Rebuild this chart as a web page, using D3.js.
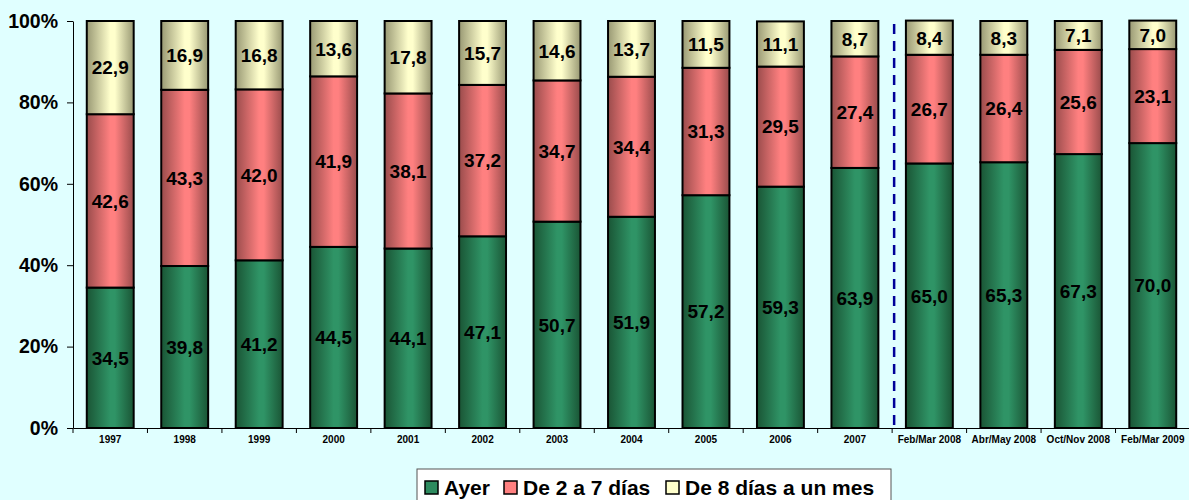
<!DOCTYPE html>
<html><head><meta charset="utf-8">
<script src="https://cdn.jsdelivr.net/npm/d3@7"></script>
<style>body{margin:0;background:#E0FFFF;}svg{display:block;font-family:"Liberation Sans",Arial,sans-serif;}</style>
</head><body><svg id="c" width="1189" height="500"></svg>
<script>
const categories = ["1997","1998","1999","2000","2001","2002","2003","2004","2005","2006","2007","Feb/Mar 2008","Abr/May 2008","Oct/Nov 2008","Feb/Mar 2009"];
const ayer = [34.5,39.8,41.2,44.5,44.1,47.1,50.7,51.9,57.2,59.3,63.9,65.0,65.3,67.3,70.0];
const de2a7 = [42.6,43.3,42.0,41.9,38.1,37.2,34.7,34.4,31.3,29.5,27.4,26.7,26.4,25.6,23.1];
const de8 = [22.9,16.9,16.8,13.6,17.8,15.7,14.6,13.7,11.5,11.1,8.7,8.4,8.3,7.1,7.0];
const seriesNames = ["Ayer","De 2 a 7 días","De 8 días a un mes"];
const yTicks = [0,20,40,60,80,100];

const svg = d3.select("#c");
const x = d3.scaleBand().domain(categories).range([73,1190]).paddingInner(0.37).paddingOuter(0.185);
const y = d3.scaleLinear().domain([0,100]).range([428,21]);

const defs = svg.append("defs");
const cols = [["#1a5535","#2f9466","#1a5535"],["#9a4c4c","#ff8080","#9a4c4c"],["#999974","#ffffcc","#999974"]];
cols.forEach((c,i)=>{
  const g = defs.append("linearGradient").attr("id","g"+i).attr("x1","0").attr("x2","1").attr("y1","0").attr("y2","0");
  g.append("stop").attr("offset","0%").attr("stop-color",c[0]);
  g.append("stop").attr("offset","50%").attr("stop-color",c[1]);
  g.append("stop").attr("offset","60%").attr("stop-color",c[1]);
  g.append("stop").attr("offset","100%").attr("stop-color",c[2]);
});
const flat = ["#2e8b5f","#ff8080","#ffffcc"];

const rows = categories.map((c,i)=>({cat:c, a:ayer[i], b:de2a7[i], c:de8[i]}));
const stack = d3.stack().keys(["a","b","c"])(rows);

// axes
const yAxis = svg.append("g").attr("transform","translate(73,0)")
  .call(d3.axisLeft(y).tickValues(yTicks).tickFormat(d=>d+"%").tickSize(6).tickSizeOuter(0));
yAxis.select(".domain").attr("stroke","#000");
yAxis.selectAll("text").attr("font-size","19.5px").attr("font-weight","bold").attr("fill","#000").attr("x",-15);

const xAxis = svg.append("g").attr("transform","translate(0,428)")
  .call(d3.axisBottom(x).tickSize(0).tickSizeOuter(0));
xAxis.select(".domain").attr("stroke","#000");
xAxis.selectAll("text").attr("font-size","10px").attr("font-weight","bold").attr("fill","#000").attr("dy","1.15em");
// band boundary ticks
const step = x.step();
const bounds = d3.range(categories.length+1).map(i=>x.range()[0]+i*step);
svg.append("g").selectAll("line").data(bounds).join("line")
  .attr("x1",d=>d).attr("x2",d=>d).attr("y1",428).attr("y2",433).attr("stroke","#000");

// bars
stack.forEach((s,si)=>{
  svg.append("g").selectAll("rect").data(s).join("rect")
    .attr("x",d=>x(d.data.cat)).attr("width",x.bandwidth())
    .attr("y",d=>y(d[1])).attr("height",d=>y(d[0])-y(d[1]))
    .attr("fill","url(#g"+si+")").attr("stroke","#000").attr("stroke-width",2);
});
stack.forEach((s,si)=>{
  svg.append("g").selectAll("text").data(s).join("text")
    .attr("x",d=>x(d.data.cat)+x.bandwidth()/2)
    .attr("y",d=>(y(d[0])+y(d[1]))/2)
    .attr("dy","0.36em").attr("text-anchor","middle")
    .attr("font-size","19px").attr("font-weight","bold").attr("fill","#000")
    .text(d=>d3.format(".1f")(d[1]-d[0]).replace(".",","));
});

// dashed divider between 2007 and Feb/Mar 2008
const dx = x("Feb/Mar 2008") - (step - x.bandwidth())/2 + 2;
svg.append("line").attr("x1",dx).attr("x2",dx).attr("y1",24).attr("y2",428)
  .attr("stroke","#000099").attr("stroke-width",2.5).attr("stroke-dasharray","10,7");

// legend
const lg = svg.append("g");
lg.append("rect").attr("x",417).attr("y",469).attr("width",474).attr("height",40)
  .attr("fill","#fff").attr("stroke","#555").attr("stroke-width",1);
const items = [{x:425,t:seriesNames[0]},{x:504,t:seriesNames[1]},{x:666,t:seriesNames[2]}];
items.forEach((it,i)=>{
  lg.append("rect").attr("x",it.x).attr("y",481).attr("width",13).attr("height",13)
    .attr("fill",flat[i]).attr("stroke","#000").attr("stroke-width",1.5);
  lg.append("text").attr("x",it.x+19).attr("y",495).attr("font-size","21px").attr("font-weight","bold")
    .attr("fill","#000").text(it.t);
});
</script></body></html>
